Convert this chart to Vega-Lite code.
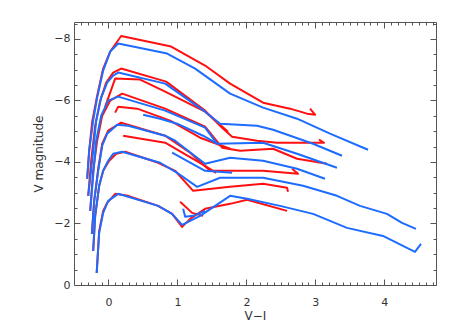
{
  "$schema": "https://vega.github.io/schema/vega-lite/v6.json",
  "width": 362,
  "height": 263,
  "autosize": {"type": "none"},
  "padding": {"left": 74, "top": 22, "right": 22, "bottom": 50},
  "background": "white",
  "config": {
    "view": {"stroke": null},
    "axis": {
      "labelFont": "DejaVu Sans", "labelFontSize": 11, "labelColor": "#333",
      "titleFont": "DejaVu Sans", "titleFontSize": 12, "titleColor": "#333", "titleFontWeight": "normal",
      "domainColor": "#555", "tickColor": "#555", "grid": false
    }
  },
  "data": {"values": [
    {"s":"R1","m":"A","i":0,"x":-0.309,"y":-3.453},{"s":"R1","m":"A","i":1,"x":-0.280,"y":-4.365},{"s":"R1","m":"A","i":2,"x":-0.236,"y":-5.309},{"s":"R1","m":"A","i":3,"x":-0.164,"y":-6.156},{"s":"R1","m":"A","i":4,"x":-0.077,"y":-7.036},{"s":"R1","m":"A","i":5,"x":0.025,"y":-7.590},{"s":"R1","m":"A","i":6,"x":0.184,"y":-8.094},{"s":"R1","m":"A","i":7,"x":0.909,"y":-7.752},{"s":"R1","m":"A","i":8,"x":1.401,"y":-7.134},{"s":"R1","m":"A","i":9,"x":1.764,"y":-6.547},{"s":"R1","m":"A","i":10,"x":2.242,"y":-5.928},{"s":"R1","m":"A","i":11,"x":2.633,"y":-5.733},{"s":"R1","m":"A","i":12,"x":2.880,"y":-5.570},{"s":"R1","m":"A","i":13,"x":2.996,"y":-5.537},{"s":"R1","m":"A","i":14,"x":2.923,"y":-5.733},
    {"s":"R2","m":"A","i":0,"x":-0.294,"y":-2.899},{"s":"R2","m":"A","i":1,"x":-0.251,"y":-4.039},{"s":"R2","m":"A","i":2,"x":-0.193,"y":-5.179},{"s":"R2","m":"A","i":3,"x":-0.120,"y":-5.993},{"s":"R2","m":"A","i":4,"x":-0.033,"y":-6.580},{"s":"R2","m":"A","i":5,"x":0.068,"y":-6.906},{"s":"R2","m":"A","i":6,"x":0.184,"y":-7.036},{"s":"R2","m":"A","i":7,"x":0.836,"y":-6.612},{"s":"R2","m":"A","i":8,"x":1.401,"y":-5.668},{"s":"R2","m":"A","i":9,"x":1.648,"y":-5.114},{"s":"R2","m":"A","i":10,"x":1.793,"y":-4.821},{"s":"R2","m":"A","i":11,"x":2.155,"y":-4.691},{"s":"R2","m":"A","i":12,"x":2.445,"y":-4.625},{"s":"R2","m":"A","i":13,"x":2.778,"y":-4.625},{"s":"R2","m":"A","i":14,"x":3.126,"y":-4.625},{"s":"R2","m":"A","i":15,"x":3.053,"y":-4.723},
    {"s":"R2b","m":"A","i":0,"x":-0.048,"y":-5.798},{"s":"R2b","m":"A","i":1,"x":0.097,"y":-6.710},{"s":"R2b","m":"A","i":2,"x":0.459,"y":-6.678},{"s":"R2b","m":"A","i":3,"x":0.822,"y":-6.287},{"s":"R2b","m":"A","i":4,"x":1.401,"y":-5.635},{"s":"R2b","m":"A","i":5,"x":1.735,"y":-4.984},
    {"s":"R3","m":"A","i":0,"x":-0.265,"y":-2.410},{"s":"R3","m":"A","i":1,"x":-0.222,"y":-3.713},{"s":"R3","m":"A","i":2,"x":-0.164,"y":-4.691},{"s":"R3","m":"A","i":3,"x":-0.091,"y":-5.505},{"s":"R3","m":"A","i":4,"x":0.025,"y":-5.993},{"s":"R3","m":"A","i":5,"x":0.199,"y":-6.221},{"s":"R3","m":"A","i":6,"x":0.822,"y":-5.733},{"s":"R3","m":"A","i":7,"x":1.401,"y":-5.147},{"s":"R3","m":"A","i":8,"x":1.648,"y":-4.463},{"s":"R3","m":"A","i":9,"x":1.909,"y":-4.365},{"s":"R3","m":"A","i":10,"x":2.387,"y":-4.430},{"s":"R3","m":"A","i":11,"x":2.735,"y":-4.104},{"s":"R3","m":"A","i":12,"x":3.170,"y":-3.941},
    {"s":"R3b","m":"A","i":0,"x":0.097,"y":-5.603},{"s":"R3b","m":"A","i":1,"x":0.141,"y":-5.798},{"s":"R3b","m":"A","i":2,"x":0.416,"y":-5.733},{"s":"R3b","m":"A","i":3,"x":0.894,"y":-5.342},{"s":"R3b","m":"A","i":4,"x":1.329,"y":-4.788},{"s":"R3b","m":"A","i":5,"x":1.764,"y":-4.430},
    {"s":"R4","m":"A","i":0,"x":-0.241,"y":-1.661},{"s":"R4","m":"A","i":1,"x":-0.207,"y":-2.736},{"s":"R4","m":"A","i":2,"x":-0.149,"y":-3.779},{"s":"R4","m":"A","i":3,"x":-0.091,"y":-4.593},{"s":"R4","m":"A","i":4,"x":-0.004,"y":-5.016},{"s":"R4","m":"A","i":5,"x":0.184,"y":-5.277},{"s":"R4","m":"A","i":6,"x":0.822,"y":-4.853},{"s":"R4","m":"A","i":7,"x":1.184,"y":-4.300},{"s":"R4","m":"A","i":8,"x":1.474,"y":-3.713},{"s":"R4","m":"A","i":9,"x":2.242,"y":-3.713},{"s":"R4","m":"A","i":10,"x":2.749,"y":-3.616},{"s":"R4","m":"A","i":11,"x":2.662,"y":-3.779},
    {"s":"R4b","m":"A","i":0,"x":0.213,"y":-4.853},{"s":"R4b","m":"A","i":1,"x":0.822,"y":-4.625},{"s":"R4b","m":"A","i":2,"x":1.401,"y":-3.876},{"s":"R4b","m":"A","i":3,"x":1.561,"y":-3.648},
    {"s":"R5","m":"A","i":0,"x":-0.222,"y":-1.107},{"s":"R5","m":"A","i":1,"x":-0.193,"y":-2.248},{"s":"R5","m":"A","i":2,"x":-0.135,"y":-3.225},{"s":"R5","m":"A","i":3,"x":-0.077,"y":-3.713},{"s":"R5","m":"A","i":4,"x":0.010,"y":-4.039},{"s":"R5","m":"A","i":5,"x":0.112,"y":-4.267},{"s":"R5","m":"A","i":6,"x":0.242,"y":-4.332},{"s":"R5","m":"A","i":7,"x":0.720,"y":-3.974},{"s":"R5","m":"A","i":8,"x":0.967,"y":-3.713},{"s":"R5","m":"A","i":9,"x":1.228,"y":-3.062},{"s":"R5","m":"A","i":10,"x":1.764,"y":-3.192},{"s":"R5","m":"A","i":11,"x":2.242,"y":-3.290},{"s":"R5","m":"A","i":12,"x":2.590,"y":-3.160},{"s":"R5","m":"A","i":13,"x":2.604,"y":-3.029},
    {"s":"R6","m":"A","i":0,"x":-0.171,"y":-0.391},{"s":"R6","m":"A","i":1,"x":-0.135,"y":-1.759},{"s":"R6","m":"A","i":2,"x":-0.077,"y":-2.410},{"s":"R6","m":"A","i":3,"x":-0.019,"y":-2.671},{"s":"R6","m":"A","i":4,"x":0.097,"y":-2.964},{"s":"R6","m":"A","i":5,"x":0.286,"y":-2.899},{"s":"R6","m":"A","i":6,"x":0.720,"y":-2.573},{"s":"R6","m":"A","i":7,"x":0.923,"y":-2.313},{"s":"R6","m":"A","i":8,"x":1.068,"y":-1.889},{"s":"R6","m":"A","i":9,"x":1.184,"y":-2.150},{"s":"R6","m":"A","i":10,"x":1.401,"y":-2.476},{"s":"R6","m":"A","i":11,"x":1.764,"y":-2.638},{"s":"R6","m":"A","i":12,"x":2.010,"y":-2.769},{"s":"R6","m":"A","i":13,"x":2.590,"y":-2.410},
    {"s":"R6b","m":"A","i":0,"x":1.039,"y":-2.704},{"s":"R6b","m":"A","i":1,"x":1.213,"y":-2.345},{"s":"R6b","m":"A","i":2,"x":1.372,"y":-2.248},
    {"s":"B1","m":"B","i":0,"x":-0.309,"y":-3.453},{"s":"B1","m":"B","i":1,"x":-0.280,"y":-4.365},{"s":"B1","m":"B","i":2,"x":-0.222,"y":-5.342},{"s":"B1","m":"B","i":3,"x":-0.164,"y":-6.091},{"s":"B1","m":"B","i":4,"x":-0.077,"y":-6.971},{"s":"B1","m":"B","i":5,"x":0.025,"y":-7.590},{"s":"B1","m":"B","i":6,"x":0.141,"y":-7.850},{"s":"B1","m":"B","i":7,"x":0.851,"y":-7.524},{"s":"B1","m":"B","i":8,"x":1.257,"y":-7.036},{"s":"B1","m":"B","i":9,"x":1.764,"y":-6.221},{"s":"B1","m":"B","i":10,"x":2.242,"y":-5.765},{"s":"B1","m":"B","i":11,"x":2.735,"y":-5.407},{"s":"B1","m":"B","i":12,"x":3.213,"y":-4.919},{"s":"B1","m":"B","i":13,"x":3.764,"y":-4.397},
    {"s":"B2","m":"B","i":0,"x":-0.294,"y":-2.899},{"s":"B2","m":"B","i":1,"x":-0.236,"y":-4.039},{"s":"B2","m":"B","i":2,"x":-0.178,"y":-5.342},{"s":"B2","m":"B","i":3,"x":-0.106,"y":-6.091},{"s":"B2","m":"B","i":4,"x":-0.019,"y":-6.580},{"s":"B2","m":"B","i":5,"x":0.068,"y":-6.808},{"s":"B2","m":"B","i":6,"x":0.141,"y":-6.906},{"s":"B2","m":"B","i":7,"x":0.822,"y":-6.547},{"s":"B2","m":"B","i":8,"x":1.401,"y":-5.635},{"s":"B2","m":"B","i":9,"x":1.619,"y":-5.244},{"s":"B2","m":"B","i":10,"x":2.155,"y":-5.179},{"s":"B2","m":"B","i":11,"x":2.387,"y":-5.049},{"s":"B2","m":"B","i":12,"x":2.967,"y":-4.593},{"s":"B2","m":"B","i":13,"x":3.387,"y":-4.202},
    {"s":"B3","m":"B","i":0,"x":-0.265,"y":-2.410},{"s":"B3","m":"B","i":1,"x":-0.222,"y":-3.550},{"s":"B3","m":"B","i":2,"x":-0.178,"y":-4.691},{"s":"B3","m":"B","i":3,"x":-0.106,"y":-5.505},{"s":"B3","m":"B","i":4,"x":-0.004,"y":-5.993},{"s":"B3","m":"B","i":5,"x":0.141,"y":-6.124},{"s":"B3","m":"B","i":6,"x":0.822,"y":-5.668},{"s":"B3","m":"B","i":7,"x":1.401,"y":-5.114},{"s":"B3","m":"B","i":8,"x":1.575,"y":-4.593},{"s":"B3","m":"B","i":9,"x":2.242,"y":-4.625},{"s":"B3","m":"B","i":10,"x":2.735,"y":-4.267},{"s":"B3","m":"B","i":11,"x":3.314,"y":-3.811},
    {"s":"B3b","m":"B","i":0,"x":0.503,"y":-5.537},{"s":"B3b","m":"B","i":1,"x":0.749,"y":-5.407},{"s":"B3b","m":"B","i":2,"x":0.996,"y":-5.244},{"s":"B3b","m":"B","i":3,"x":1.372,"y":-4.853},{"s":"B3b","m":"B","i":4,"x":1.575,"y":-4.593},
    {"s":"B4","m":"B","i":0,"x":-0.241,"y":-1.661},{"s":"B4","m":"B","i":1,"x":-0.207,"y":-2.736},{"s":"B4","m":"B","i":2,"x":-0.149,"y":-3.713},{"s":"B4","m":"B","i":3,"x":-0.091,"y":-4.528},{"s":"B4","m":"B","i":4,"x":-0.019,"y":-4.919},{"s":"B4","m":"B","i":5,"x":0.126,"y":-5.212},{"s":"B4","m":"B","i":6,"x":0.286,"y":-5.179},{"s":"B4","m":"B","i":7,"x":0.822,"y":-4.853},{"s":"B4","m":"B","i":8,"x":0.967,"y":-4.691},{"s":"B4","m":"B","i":9,"x":1.155,"y":-4.365},{"s":"B4","m":"B","i":10,"x":1.401,"y":-3.941},{"s":"B4","m":"B","i":11,"x":1.764,"y":-4.137},{"s":"B4","m":"B","i":12,"x":2.242,"y":-4.039},{"s":"B4","m":"B","i":13,"x":2.735,"y":-3.779},{"s":"B4","m":"B","i":14,"x":3.140,"y":-3.453},
    {"s":"B4b","m":"B","i":0,"x":0.923,"y":-4.300},{"s":"B4b","m":"B","i":1,"x":1.401,"y":-3.713},{"s":"B4b","m":"B","i":2,"x":1.793,"y":-3.648},
    {"s":"B5","m":"B","i":0,"x":-0.222,"y":-1.107},{"s":"B5","m":"B","i":1,"x":-0.193,"y":-2.248},{"s":"B5","m":"B","i":2,"x":-0.135,"y":-3.225},{"s":"B5","m":"B","i":3,"x":-0.077,"y":-3.713},{"s":"B5","m":"B","i":4,"x":-0.004,"y":-4.039},{"s":"B5","m":"B","i":5,"x":0.068,"y":-4.267},{"s":"B5","m":"B","i":6,"x":0.199,"y":-4.332},{"s":"B5","m":"B","i":7,"x":0.749,"y":-3.974},{"s":"B5","m":"B","i":8,"x":0.996,"y":-3.648},{"s":"B5","m":"B","i":9,"x":1.286,"y":-3.192},{"s":"B5","m":"B","i":10,"x":1.619,"y":-3.485},{"s":"B5","m":"B","i":11,"x":2.242,"y":-3.485},{"s":"B5","m":"B","i":12,"x":2.822,"y":-3.225},{"s":"B5","m":"B","i":13,"x":3.314,"y":-2.899},{"s":"B5","m":"B","i":14,"x":3.648,"y":-2.573},{"s":"B5","m":"B","i":15,"x":4.039,"y":-2.313},{"s":"B5","m":"B","i":16,"x":4.257,"y":-2.020},{"s":"B5","m":"B","i":17,"x":4.459,"y":-1.824},
    {"s":"B6","m":"B","i":0,"x":-0.171,"y":-0.391},{"s":"B6","m":"B","i":1,"x":-0.135,"y":-1.694},{"s":"B6","m":"B","i":2,"x":-0.077,"y":-2.345},{"s":"B6","m":"B","i":3,"x":-0.004,"y":-2.736},{"s":"B6","m":"B","i":4,"x":0.141,"y":-2.964},{"s":"B6","m":"B","i":5,"x":0.720,"y":-2.573},{"s":"B6","m":"B","i":6,"x":0.923,"y":-2.313},{"s":"B6","m":"B","i":7,"x":1.068,"y":-1.954},{"s":"B6","m":"B","i":8,"x":1.329,"y":-2.248},{"s":"B6","m":"B","i":9,"x":1.764,"y":-2.899},{"s":"B6","m":"B","i":10,"x":2.010,"y":-2.801},{"s":"B6","m":"B","i":11,"x":2.488,"y":-2.573},{"s":"B6","m":"B","i":12,"x":2.967,"y":-2.313},{"s":"B6","m":"B","i":13,"x":3.459,"y":-1.857},{"s":"B6","m":"B","i":14,"x":3.981,"y":-1.596},{"s":"B6","m":"B","i":15,"x":4.445,"y":-1.075},{"s":"B6","m":"B","i":16,"x":4.532,"y":-1.336},
    {"s":"B6b","m":"B","i":0,"x":1.083,"y":-2.476},{"s":"B6b","m":"B","i":1,"x":1.112,"y":-2.215},{"s":"B6b","m":"B","i":2,"x":1.228,"y":-2.248},{"s":"B6b","m":"B","i":3,"x":1.401,"y":-2.410}
  ]},
  "resolve": {"axis": {"x": "independent", "y": "independent"}},
  "layer": [
    {
      "transform": [{"filter": "datum.m === 'A'"}],
      "mark": {"type": "line", "color": "#ff1010", "strokeWidth": 2, "strokeJoin": "round"},
      "encoding": {
        "x": {"field": "x", "type": "quantitative", "scale": {"domain": [-0.5, 4.75], "nice": false, "zero": false},
              "axis": {"orient": "bottom", "values": [0,1,2,3,4], "tickSize": -6, "labelPadding": 17, "title": "V−I", "titlePadding": 3}},
        "y": {"field": "y", "type": "quantitative", "scale": {"domain": [0, -8.55], "nice": false, "zero": false},
              "axis": {"orient": "left", "values": [0,-2,-4,-6,-8], "tickSize": -6, "labelPadding": 10, "title": "V magnitude", "titlePadding": 8}},
        "detail": {"field": "s"},
        "order": {"field": "i", "type": "quantitative"}
      }
    },
    {
      "transform": [{"filter": "datum.m === 'B'"}],
      "mark": {"type": "line", "color": "#1e6cff", "strokeWidth": 2, "strokeJoin": "round"},
      "encoding": {
        "x": {"field": "x", "type": "quantitative", "scale": {"domain": [-0.5, 4.75], "nice": false, "zero": false},
              "axis": {"orient": "top", "values": [0,1,2,3,4], "tickSize": -6, "labels": false, "title": null}},
        "y": {"field": "y", "type": "quantitative", "scale": {"domain": [0, -8.55], "nice": false, "zero": false},
              "axis": {"orient": "right", "values": [0,-2,-4,-6,-8], "tickSize": -6, "labels": false, "title": null}},
        "detail": {"field": "s"},
        "order": {"field": "i", "type": "quantitative"}
      }
    },
    {
      "mark": {"type": "point", "opacity": 0},
      "encoding": {
        "x": {"field": "x", "type": "quantitative", "scale": {"domain": [-0.5, 4.75], "nice": false, "zero": false},
              "axis": {"orient": "bottom", "values": [-0.4,-0.3,-0.2,-0.1,0.1,0.2,0.3,0.4,0.5,0.6,0.7,0.8,0.9,1.1,1.2,1.3,1.4,1.5,1.6,1.7,1.8,1.9,2.1,2.2,2.3,2.4,2.5,2.6,2.7,2.8,2.9,3.1,3.2,3.3,3.4,3.5,3.6,3.7,3.8,3.9,4.1,4.2,4.3,4.4,4.5,4.6,4.7], "tickSize": -3, "labels": false, "domain": false, "title": null}},
        "y": {"field": "y", "type": "quantitative", "scale": {"domain": [0, -8.55], "nice": false, "zero": false},
              "axis": {"orient": "left", "values": [-0.5,-1,-1.5,-2.5,-3,-3.5,-4.5,-5,-5.5,-6.5,-7,-7.5,-8.5], "tickSize": -3, "labels": false, "domain": false, "title": null}}
      }
    },
    {
      "mark": {"type": "point", "opacity": 0},
      "encoding": {
        "x": {"field": "x", "type": "quantitative", "scale": {"domain": [-0.5, 4.75], "nice": false, "zero": false},
              "axis": {"orient": "top", "values": [-0.4,-0.3,-0.2,-0.1,0.1,0.2,0.3,0.4,0.5,0.6,0.7,0.8,0.9,1.1,1.2,1.3,1.4,1.5,1.6,1.7,1.8,1.9,2.1,2.2,2.3,2.4,2.5,2.6,2.7,2.8,2.9,3.1,3.2,3.3,3.4,3.5,3.6,3.7,3.8,3.9,4.1,4.2,4.3,4.4,4.5,4.6,4.7], "tickSize": -3, "labels": false, "domain": false, "title": null}},
        "y": {"field": "y", "type": "quantitative", "scale": {"domain": [0, -8.55], "nice": false, "zero": false},
              "axis": {"orient": "right", "values": [-0.5,-1,-1.5,-2.5,-3,-3.5,-4.5,-5,-5.5,-6.5,-7,-7.5,-8.5], "tickSize": -3, "labels": false, "domain": false, "title": null}}
      }
    }
  ]
}
